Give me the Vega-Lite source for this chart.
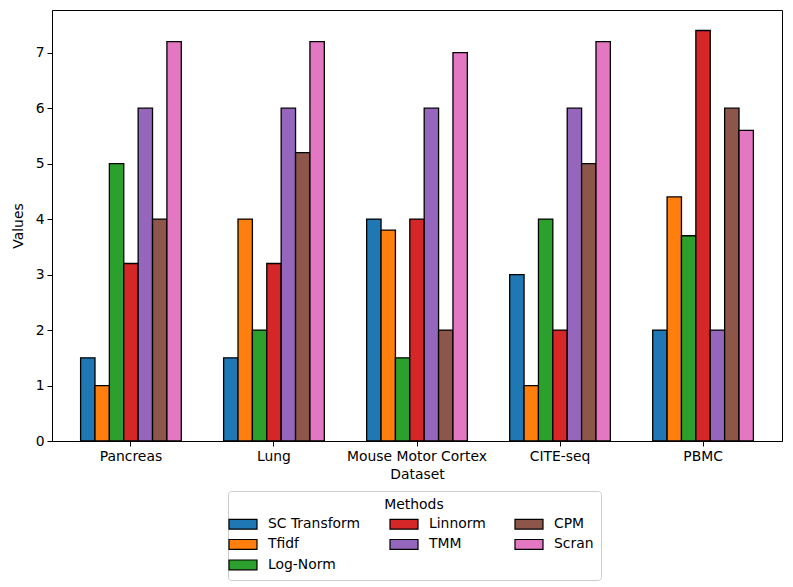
{
  "$schema": "https://vega.github.io/schema/vega-lite/v6.json",
  "autosize": {"type": "none"},
  "width": 730,
  "height": 431,
  "padding": {"left": 52, "top": 10, "right": 11, "bottom": 146},
  "background": "white",
  "config": {
    "font": "DejaVu Sans",
    "view": {"stroke": "black", "strokeWidth": 1},
    "axis": {
      "labelFont": "DejaVu Sans", "titleFont": "DejaVu Sans",
      "labelFontSize": 13.9, "titleFontSize": 13.9, "titleFontWeight": "normal",
      "labelColor": "black", "titleColor": "black",
      "domainColor": "black", "tickColor": "black", "tickSize": 5, "grid": false
    },
    "legend": {"labelFont": "DejaVu Sans", "titleFont": "DejaVu Sans"}
  },
  "data": {
    "values": [
      {"dataset": "Pancreas", "method": "SC Transform", "value": 1.5},
      {"dataset": "Pancreas", "method": "Tfidf", "value": 1.0},
      {"dataset": "Pancreas", "method": "Log-Norm", "value": 5.0},
      {"dataset": "Pancreas", "method": "Linnorm", "value": 3.2},
      {"dataset": "Pancreas", "method": "TMM", "value": 6.0},
      {"dataset": "Pancreas", "method": "CPM", "value": 4.0},
      {"dataset": "Pancreas", "method": "Scran", "value": 7.2},
      {"dataset": "Lung", "method": "SC Transform", "value": 1.5},
      {"dataset": "Lung", "method": "Tfidf", "value": 4.0},
      {"dataset": "Lung", "method": "Log-Norm", "value": 2.0},
      {"dataset": "Lung", "method": "Linnorm", "value": 3.2},
      {"dataset": "Lung", "method": "TMM", "value": 6.0},
      {"dataset": "Lung", "method": "CPM", "value": 5.2},
      {"dataset": "Lung", "method": "Scran", "value": 7.2},
      {"dataset": "Mouse Motor Cortex", "method": "SC Transform", "value": 4.0},
      {"dataset": "Mouse Motor Cortex", "method": "Tfidf", "value": 3.8},
      {"dataset": "Mouse Motor Cortex", "method": "Log-Norm", "value": 1.5},
      {"dataset": "Mouse Motor Cortex", "method": "Linnorm", "value": 4.0},
      {"dataset": "Mouse Motor Cortex", "method": "TMM", "value": 6.0},
      {"dataset": "Mouse Motor Cortex", "method": "CPM", "value": 2.0},
      {"dataset": "Mouse Motor Cortex", "method": "Scran", "value": 7.0},
      {"dataset": "CITE-seq", "method": "SC Transform", "value": 3.0},
      {"dataset": "CITE-seq", "method": "Tfidf", "value": 1.0},
      {"dataset": "CITE-seq", "method": "Log-Norm", "value": 4.0},
      {"dataset": "CITE-seq", "method": "Linnorm", "value": 2.0},
      {"dataset": "CITE-seq", "method": "TMM", "value": 6.0},
      {"dataset": "CITE-seq", "method": "CPM", "value": 5.0},
      {"dataset": "CITE-seq", "method": "Scran", "value": 7.2},
      {"dataset": "PBMC", "method": "SC Transform", "value": 2.0},
      {"dataset": "PBMC", "method": "Tfidf", "value": 4.4},
      {"dataset": "PBMC", "method": "Log-Norm", "value": 3.7},
      {"dataset": "PBMC", "method": "Linnorm", "value": 7.4},
      {"dataset": "PBMC", "method": "TMM", "value": 2.0},
      {"dataset": "PBMC", "method": "CPM", "value": 6.0},
      {"dataset": "PBMC", "method": "Scran", "value": 5.6}
    ]
  },
  "mark": {"type": "bar", "stroke": "black", "strokeWidth": 1.3},
  "encoding": {
    "x": {
      "field": "dataset", "type": "nominal", "title": "Dataset",
      "sort": ["Pancreas", "Lung", "Mouse Motor Cortex", "CITE-seq", "PBMC"],
      "scale": {"paddingInner": 0.296, "paddingOuter": 0.2},
      "axis": {"labelAngle": 0, "labelPadding": 3, "titlePadding": 5}
    },
    "xOffset": {
      "field": "method", "type": "nominal",
      "sort": ["SC Transform", "Tfidf", "Log-Norm", "Linnorm", "TMM", "CPM", "Scran"],
      "scale": {"paddingInner": 0, "paddingOuter": 0}
    },
    "y": {
      "field": "value", "type": "quantitative", "title": "Values",
      "scale": {"domain": [0, 7.77], "nice": false},
      "axis": {"values": [0, 1, 2, 3, 4, 5, 6, 7], "labelPadding": 3, "titlePadding": 10}
    },
    "color": {
      "field": "method", "type": "nominal", "title": "Methods",
      "scale": {
        "domain": ["SC Transform", "Tfidf", "Scran", "Linnorm", "TMM", "Log-Norm", "CPM"],
        "range": ["#1f77b4", "#ff7f0e", "#e377c2", "#d62728", "#9467bd", "#2ca02c", "#8c564b"]
      },
      "legend": {
        "orient": "none", "legendX": 176, "legendY": 481,
        "columns": 3, "direction": "vertical",
        "symbolType": "M-2,-0.7H2V0.7H-2Z", "symbolSize": 196,
        "symbolStrokeColor": "black", "symbolStrokeWidth": 1.2,
        "labelOffset": 17, "columnPadding": 26, "rowPadding": 4.5,
        "labelFontSize": 13.9, "labelColor": "black",
        "titleFontSize": 13.9, "titleFontWeight": "normal", "titleColor": "black",
        "titleAnchor": "middle", "titlePadding": 4,
        "padding": 7, "strokeColor": "#cccccc", "fillColor": "white", "cornerRadius": 3
      }
    }
  }
}
